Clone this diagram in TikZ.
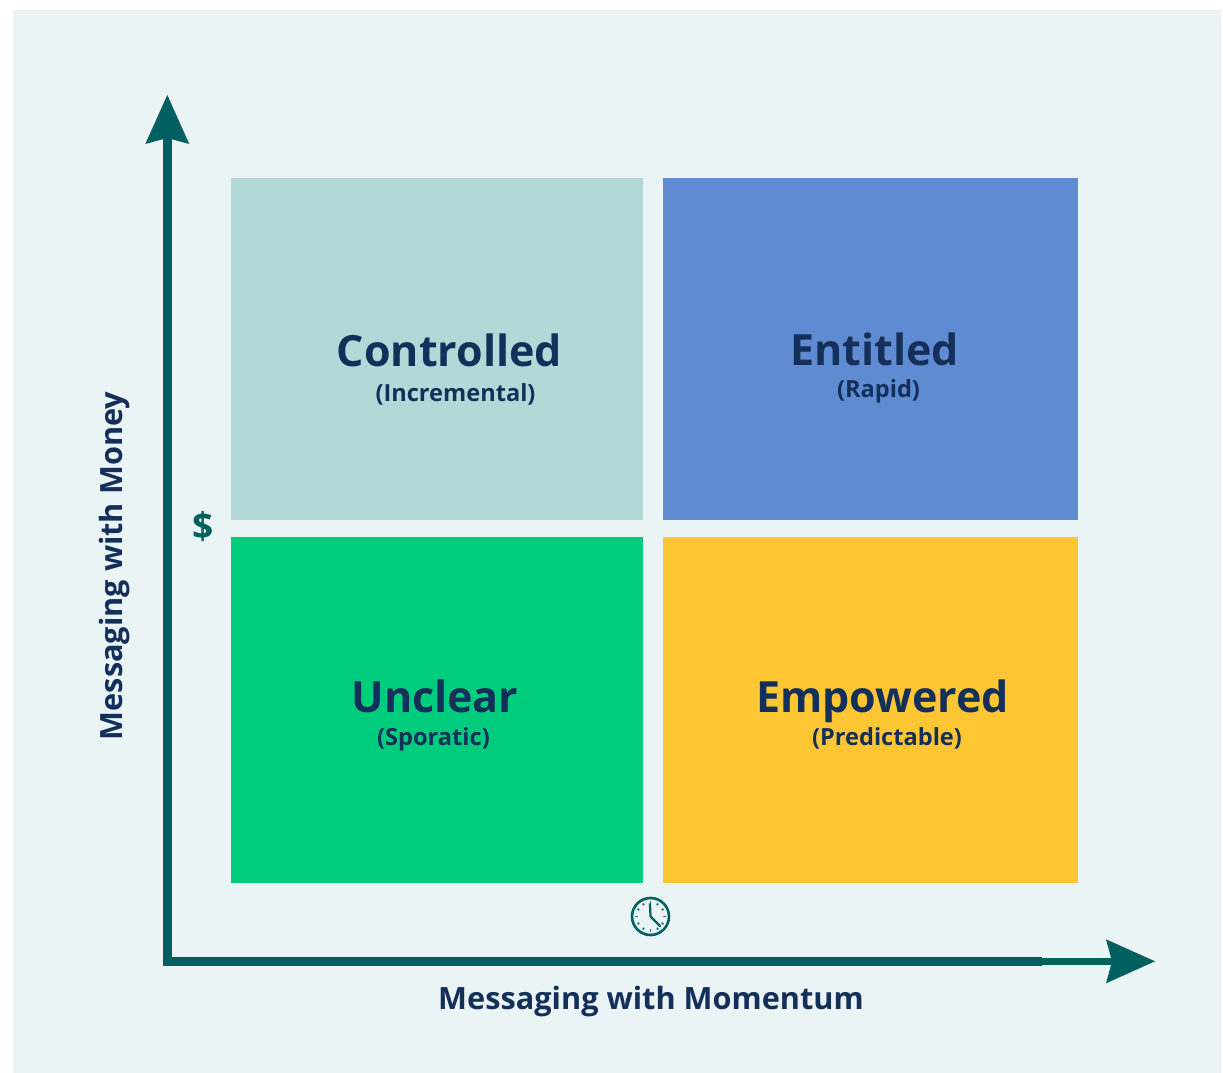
\documentclass[tikz,border=0pt]{standalone}
\usepackage{fontspec}
\usepackage{tikz}
\usetikzlibrary{arrows.meta,calc}
\setmainfont{Open Sans}
\definecolor{bgc}{HTML}{EBF4F5}
\definecolor{teal}{HTML}{005F5F}
\definecolor{navy}{HTML}{14305A}
\definecolor{cA}{HTML}{B2D8D7}
\definecolor{cB}{HTML}{5E8BD1}
\definecolor{cC}{HTML}{00CC7E}
\definecolor{cD}{HTML}{FDC632}
\tikzset{
 quad/.style={draw=none,inner sep=0pt,outer sep=0pt,anchor=north west},
 title/.style={text=navy,inner sep=0pt,anchor=base,font=\bfseries\fontsize{43}{43}\selectfont},
 sub/.style={text=navy,inner sep=0pt,anchor=base,font=\bfseries\fontsize{23.6}{23.6}\selectfont},
 axlabel/.style={text=navy,inner sep=0pt,anchor=base,font=\bfseries\fontsize{30.7}{30.7}\selectfont},
 axisline/.style={draw=teal,line width=9.4pt,line join=miter,line cap=butt},
 axistip/.style={draw=teal,line width=6.6pt,-{Stealth[length=49pt,width=44pt,inset=6pt,line width=0pt,fill=teal]}},
 clockpart/.style={draw=teal,line cap=round},
}
\begin{document}
\begin{tikzpicture}[x=1pt,y=-1pt]
\useasboundingbox (0,0) rectangle (1223,1073);
\fill[white] (0,0) rectangle (1223,1073);
\node[quad,fill=bgc,minimum width=1208pt,minimum height=1063pt] (panel) at (13,10) {};
\node[quad,fill=cA,minimum width=412pt,minimum height=342pt] (q1) at (231,178) {};
\node[quad,fill=cB,minimum width=415pt,minimum height=342pt] (q2) at (663,178) {};
\node[quad,fill=cC,minimum width=412pt,minimum height=346pt] (q3) at (231,537) {};
\node[quad,fill=cD,minimum width=415pt,minimum height=346pt] (q4) at (663,537) {};
\node[title] (t1) at (449.5,366) {Controlled};
\node[sub] (s1) at (455.5,401) {(Incremental)};
\node[title] (t2) at (874.5,365) {Entitled};
\node[sub] (s2) at (878.5,397) {(Rapid)};
\node[title] (t3) at (435,712) {Unclear};
\node[sub] (s3) at (433.5,745) {(Sporatic)};
\node[title] (t4) at (882.5,712) {Empowered};
\node[sub] (s4) at (887,745) {(Predictable)};
\coordinate (origin) at (167.3,961.3);
\coordinate (ytip) at (167.3,95);
\coordinate (xtip) at (1155,961.3);
\coordinate (xthick) at (1042,961.3);
\coordinate (ybase) at (167.3,130);
\draw[axistip] (xthick) -- (xtip);
\draw[axistip,line width=9.4pt] (origin) -- (ytip);
\draw[axisline] (ybase) -- (origin) -- (xthick);
\node[text=teal,inner sep=0pt,anchor=base,font=\bfseries\fontsize{37}{37}\selectfont] (dollar) at (203,539) {\$};
\node[axlabel] (xl) at (651,1009) {Messaging with Momentum};
\node[axlabel,rotate=90] (yl) at (122.5,566) {Messaging with Money};
\coordinate (clk) at (650.5,916.5);
\draw[clockpart,line width=2.6pt] (clk) circle (18.5);
\foreach \a in {0,30,...,330}{
  \draw[clockpart,line width=1.8pt] ($(clk)+(\a:13.5)$) -- ($(clk)+(\a:14.5)$);
}
\draw[clockpart,line width=2.2pt,line join=round] (650,904) -- (clk) -- (660,926);
\end{tikzpicture}
\end{document}
